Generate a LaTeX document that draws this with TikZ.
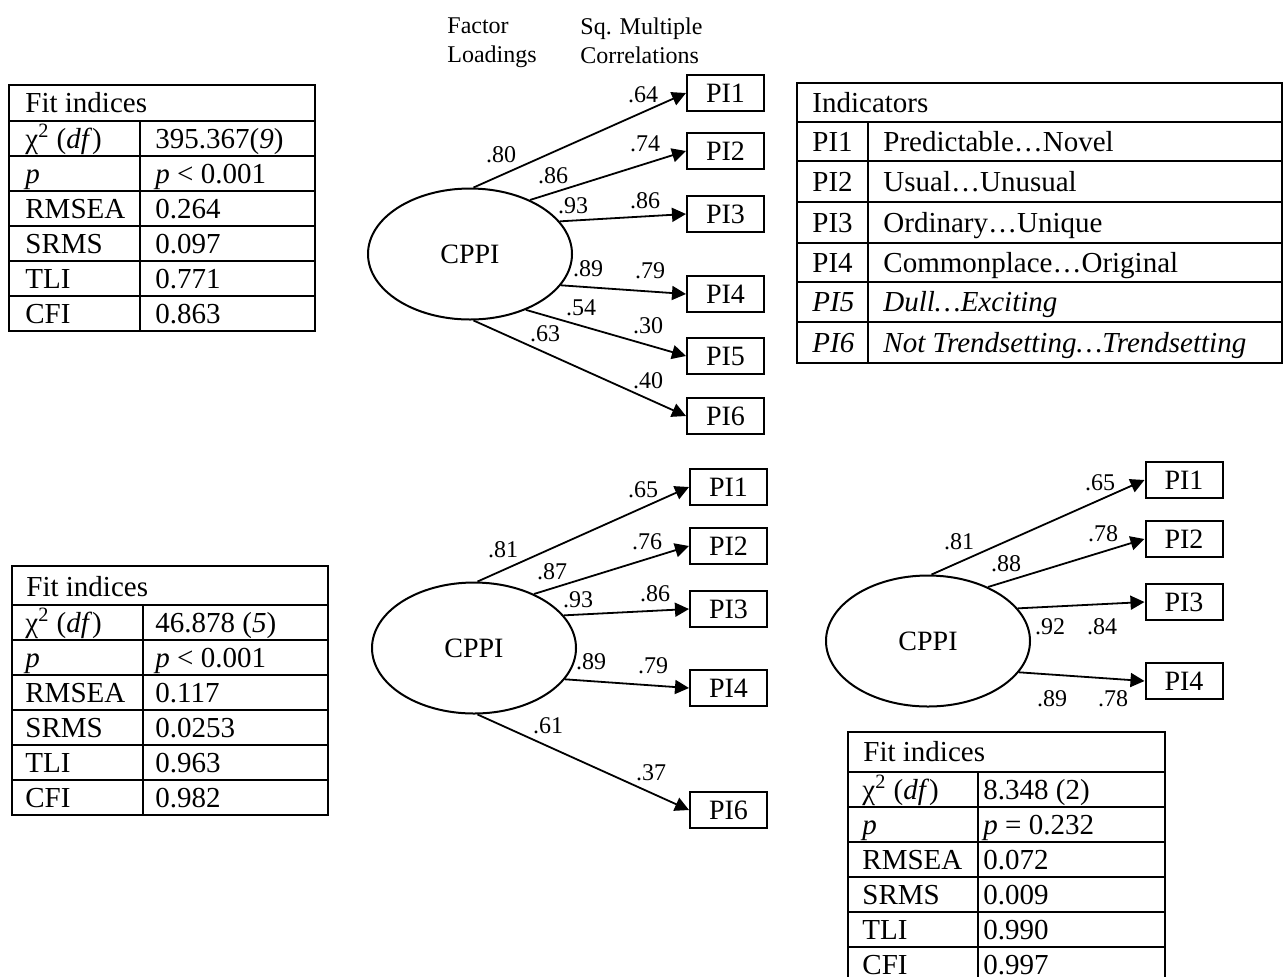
\documentclass[tikz,border=0pt]{standalone}
\usepackage{fontspec}
\setmainfont{Liberation Serif}
\usetikzlibrary{arrows.meta,positioning,shapes.geometric}

\begin{document}
\begin{tikzpicture}[
  x=0.5pt, y=-0.5pt,
  latent/.style={draw, ellipse, line width=1pt, minimum width=102pt,
                 minimum height=65.5pt, inner sep=0pt,
                 font=\fontsize{14}{16}\selectfont},
  manifest/.style={draw, rectangle, line width=1pt, minimum width=38.5pt,
                   minimum height=18pt, inner sep=0pt,
                   font=\fontsize{14}{16}\selectfont},
  loading/.style={-{Triangle[length=7pt, width=7pt]}, line width=0.9pt},
  coef/.style={inner sep=0pt, font=\fontsize{12}{14}\selectfont},
  colhead/.style={inner sep=0pt, align=left, anchor=north west,
                  font=\fontsize{12}{14.5}\selectfont},
  cell/.style={anchor=west, inner sep=0pt, text height=9.6pt, text depth=0pt,
               font=\fontsize{14.5}{17}\selectfont},
  tabline/.style={line width=1pt}
]
  \useasboundingbox (0,0) rectangle (1284,976);

  % column headings
  \node[colhead] (hdload) at (447,17) {Factor\\Loadings};
  \node[colhead] (hdsmc) at (580,17) {Sq. Multiple\\Correlations};

  % model 1: six indicators
  \node[latent] (cppiA) at (470,254) {CPPI};
  \foreach \n/\y/\a in {1/93/87, 2/151/42, 3/214/20, 4/294/-19, 5/356/-45, 6/416/-87} {
    \node[manifest] (piA\n) at (725.5,\y) {PI\n};
    \draw[loading] (cppiA.\a) -- (piA\n.west);
  }
  \foreach \t/\x/\y [count=\i] in {.80/501/155, .86/553/176, .93/573/206,
      .89/588/269, .54/581/308, .63/545/334, .64/643/95, .74/645/144,
      .86/645/201, .79/650/271, .30/648/326, .40/648/381}
    \node[coef] (cA\i) at (\x,\y) {\t};

  % model 2: PI5 dropped
  \node[latent] (cppiB) at (474,648) {CPPI};
  \foreach \n/\y/\a in {1/487/87, 2/546/42, 3/609/20, 4/688/-19, 6/810/-87} {
    \node[manifest] (piB\n) at (728.5,\y) {PI\n};
    \draw[loading] (cppiB.\a) -- (piB\n.west);
  }
  \foreach \t/\x/\y [count=\i] in {.81/503/550, .87/552/572, .93/578/600,
      .89/591/662, .61/548/726, .65/643/490, .76/647/542, .86/655/594,
      .79/653/666, .37/651/773}
    \node[coef] (cB\i) at (\x,\y) {\t};

  % model 3: four indicators
  \node[latent] (cppiC) at (928,641) {CPPI};
  \foreach \n/\y/\a in {1/480/87, 2/539/42, 3/602/20, 4/681/-19} {
    \node[manifest] (piC\n) at (1184,\y) {PI\n};
    \draw[loading] (cppiC.\a) -- (piC\n.west);
  }
  \foreach \t/\x/\y [count=\i] in {.81/959/542, .88/1006/564, .92/1050/627,
      .89/1052/699, .65/1100/483, .78/1103/534, .84/1102/627, .78/1113/699}
    \node[coef] (cC\i) at (\x,\y) {\t};

  % indicator table
  \draw[tabline] (797,83) rectangle (1282,363);
  \foreach \y in {122,161,202,243,282,322}
    \draw[tabline] (797,\y) -- (1282,\y);
  \draw[tabline] (868,122) -- (868,363);
  \node[cell] (indhead) at (812,103) {Indicators};
  \foreach \k/\d/\y in {PI1/{Predictable…Novel}/141.5,
      PI2/{Usual…Unusual}/181.5, PI3/{Ordinary…Unique}/222.5,
      PI4/{Commonplace…Original}/262.5,
      \textit{PI5}/{\textit{Dull…Exciting}}/302,
      \textit{PI6}/{\textit{Not Trendsetting…Trendsetting}}/342.5} {
    \node[cell] (ind\y) at (812,\y) {\k};
    \node[cell] (desc\y) at (883,\y) {\d};
  }

  % fit indices, model 1
  \draw[tabline] (9,85) rectangle (315,331);
  \foreach \y in {121,156,...,296}
    \draw[tabline] (9,\y) -- (315,\y);
  \draw[tabline] (140,121) -- (140,331);
  \node[cell] (fitA) at (25,103) {Fit indices};
  \foreach \l/\v [count=\i] in {{χ\textsuperscript{2} (\textit{df})}/{395.367(\textit{9})},
      \textit{p}/{\textit{p} < 0.001}, RMSEA/0.264, SRMS/0.097, TLI/0.771, CFI/0.863} {
    \node[cell] (fitAl\i) at (25,{103.5+35*\i}) {\l};
    \node[cell] (fitAv\i) at (155,{103.5+35*\i}) {\v};
  }

  % fit indices, model 2
  \draw[tabline] (12,566) rectangle (328,815);
  \foreach \y in {605,640,...,780}
    \draw[tabline] (12,\y) -- (328,\y);
  \draw[tabline] (143,605) -- (143,815);
  \node[cell] (fitB) at (26,587) {Fit indices};
  \foreach \l/\v [count=\i] in {{χ\textsuperscript{2} (\textit{df})}/{46.878 (\textit{5})},
      \textit{p}/{\textit{p} < 0.001}, RMSEA/0.117, SRMS/0.0253, TLI/0.963, CFI/0.982} {
    \node[cell] (fitBl\i) at (25,{587.5+35*\i}) {\l};
    \node[cell] (fitBv\i) at (155,{587.5+35*\i}) {\v};
  }

  % fit indices, model 3
  \draw[tabline] (848,732) rectangle (1165,982);
  \foreach \y in {772,807,...,947}
    \draw[tabline] (848,\y) -- (1165,\y);
  \draw[tabline] (978,772) -- (978,982);
  \node[cell] (fitC) at (863,752) {Fit indices};
  \foreach \l/\v [count=\i] in {{χ\textsuperscript{2} (\textit{df})}/{8.348 (2)},
      \textit{p}/{\textit{p} = 0.232}, RMSEA/0.072, SRMS/0.009, TLI/0.990, CFI/0.997} {
    \node[cell] (fitCl\i) at (862,{754.5+35*\i}) {\l};
    \node[cell] (fitCv\i) at (983,{754.5+35*\i}) {\v};
  }
\end{tikzpicture}
\end{document}
